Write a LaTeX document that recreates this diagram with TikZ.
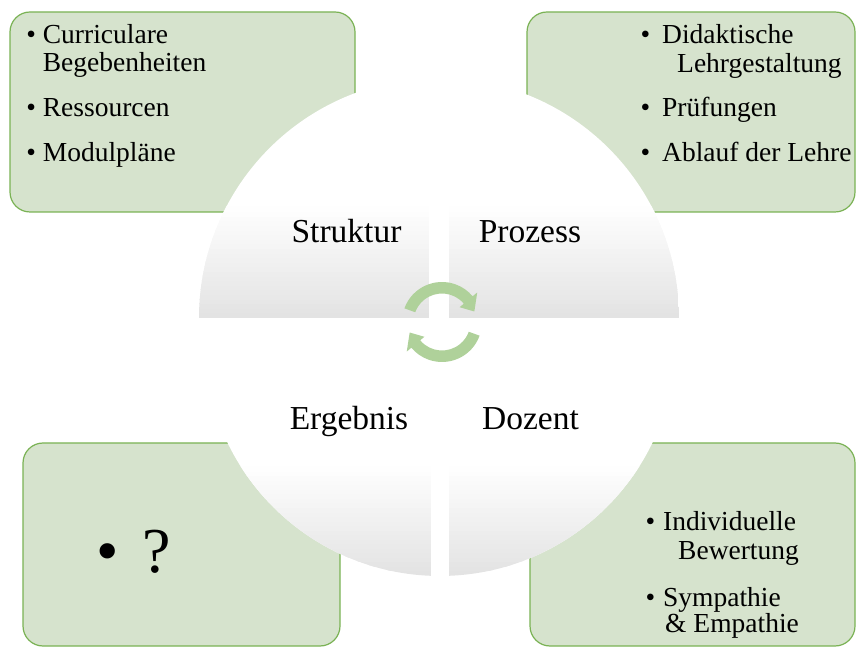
\documentclass[tikz,border=0pt]{standalone}
\usepackage{fontspec}
\setmainfont{Liberation Serif}
\usetikzlibrary{calc}

\definecolor{boxfill}{RGB}{214,227,205}
\definecolor{boxline}{RGB}{122,178,84}
\definecolor{cyclegreen}{RGB}{175,209,154}

% bullet hanging left of the item text
\newcommand{\itm}[2][7pt]{\llap{\textbullet\hspace{#1}}#2}

\begin{document}
\begin{tikzpicture}[x=10pt, y=10pt,
    infobox/.style={draw=boxline, fill=boxfill, line width=1.2pt, rounded corners=20pt},
    quadrant/.style={fill=white, path picture={
        % grey towards the bottom, white in the upper half
        \foreach \k in {0,...,23} {
            \pgfmathsetmacro\lo{\k*0.46/24}
            \pgfmathsetmacro\hi{(\k+1.3)*0.46/24}
            \pgfmathsetmacro\grey{11*(1-\k/24)}
            \fill[black!\grey]
                ($(path picture bounding box.south west)!\lo!(path picture bounding box.north west)$) rectangle
                ($(path picture bounding box.south east)!\hi!(path picture bounding box.north east)$);
        }}},
    boxtext/.style={anchor=base west, inner sep=0pt, font=\fontsize{27.5}{30}\selectfont},
    quadlabel/.style={anchor=base, inner sep=0pt, font=\fontsize{33.5}{36}\selectfont},
    cyclearrow/.style={fill=cyclegreen}
]
    \useasboundingbox (0,0) rectangle (85.6,64.8);

    % Corner boxes
    \draw[infobox] (1.0,63.6) rectangle (35.5,43.6);
    \draw[infobox] (52.7,63.6) rectangle (85.5,43.6);
    \draw[infobox] (2.3,20.5) rectangle (34.0,0.2);
    \draw[infobox] (53.0,20.5) rectangle (85.5,0.2);

    % Quadrants
    \path[quadrant] (19.9,33.0) arc[start angle=180, end angle=92.39, radius=24] -- (42.9,33.0) -- cycle;
    \path[quadrant] (44.9,33.0) -- (44.9,56.98) arc[start angle=87.61, end angle=0, radius=24] -- cycle;
    \path[quadrant] (20.4,30.8) arc[start angle=180, end angle=267.81, radius=23.6] -- (43.1,30.8) -- cycle;
    \path[quadrant] (44.9,30.8) -- (44.9,7.22) arc[start angle=272.19, end angle=360, radius=23.6] -- cycle;

    % Cycle arrows
    \coordinate (cyc) at (44.2,32.6);
    \foreach \rot in {0,180}
        \fill[cyclearrow, shift={(cyc)}, rotate=\rot] (160:4.0) arc[start angle=160, end angle=40, radius=4.0]
            -- (40:4.6) -- (18:3.4) -- (40:2.3) -- (40:2.85) arc[start angle=40, end angle=160, radius=2.85] -- cycle;

    % Quadrant labels
    \node[quadlabel] (struktur) at (34.65,40.5) {Struktur};
    \node[quadlabel] (prozess) at (53.0,40.5) {Prozess};
    \node[quadlabel] (ergebnis) at (34.9,21.8) {Ergebnis};
    \node[quadlabel] (dozent) at (53.05,21.8) {Dozent};

    % Struktur box
    \node[boxtext] (curr) at (4.27,60.4) {\itm{Curriculare}};
    \node[boxtext] (begeb) at (4.27,57.63) {Begebenheiten};
    \node[boxtext] (ressourcen) at (4.27,53.1) {\itm{Ressourcen}};
    \node[boxtext] (modul) at (4.27,48.63) {\itm{Modulpläne}};

    % Prozess box
    \node[boxtext] (didakt) at (66.2,60.4) {\itm[12pt]{Didaktische}};
    \node[boxtext] (lehrgest) at (67.7,57.53) {Lehrgestaltung};
    \node[boxtext] (pruef) at (66.2,53.1) {\itm[12pt]{Prüfungen}};
    \node[boxtext] (ablauf) at (66.2,48.6) {\itm[12pt]{Ablauf der Lehre}};

    % Ergebnis box
    \node[boxtext, font=\fontsize{64}{70}\selectfont] (frage) at (9.6,7.6) {\textbullet\hspace{24pt}?};

    % Dozent box
    \node[boxtext] (indiv) at (66.3,11.8) {\itm[8pt]{Individuelle}};
    \node[boxtext] (bewert) at (67.8,8.87) {Bewertung};
    \node[boxtext] (sympa) at (66.3,4.2) {\itm[8pt]{Sympathie}};
    \node[boxtext] (empa) at (66.5,1.53) {\& Empathie};

\end{tikzpicture}
\end{document}
